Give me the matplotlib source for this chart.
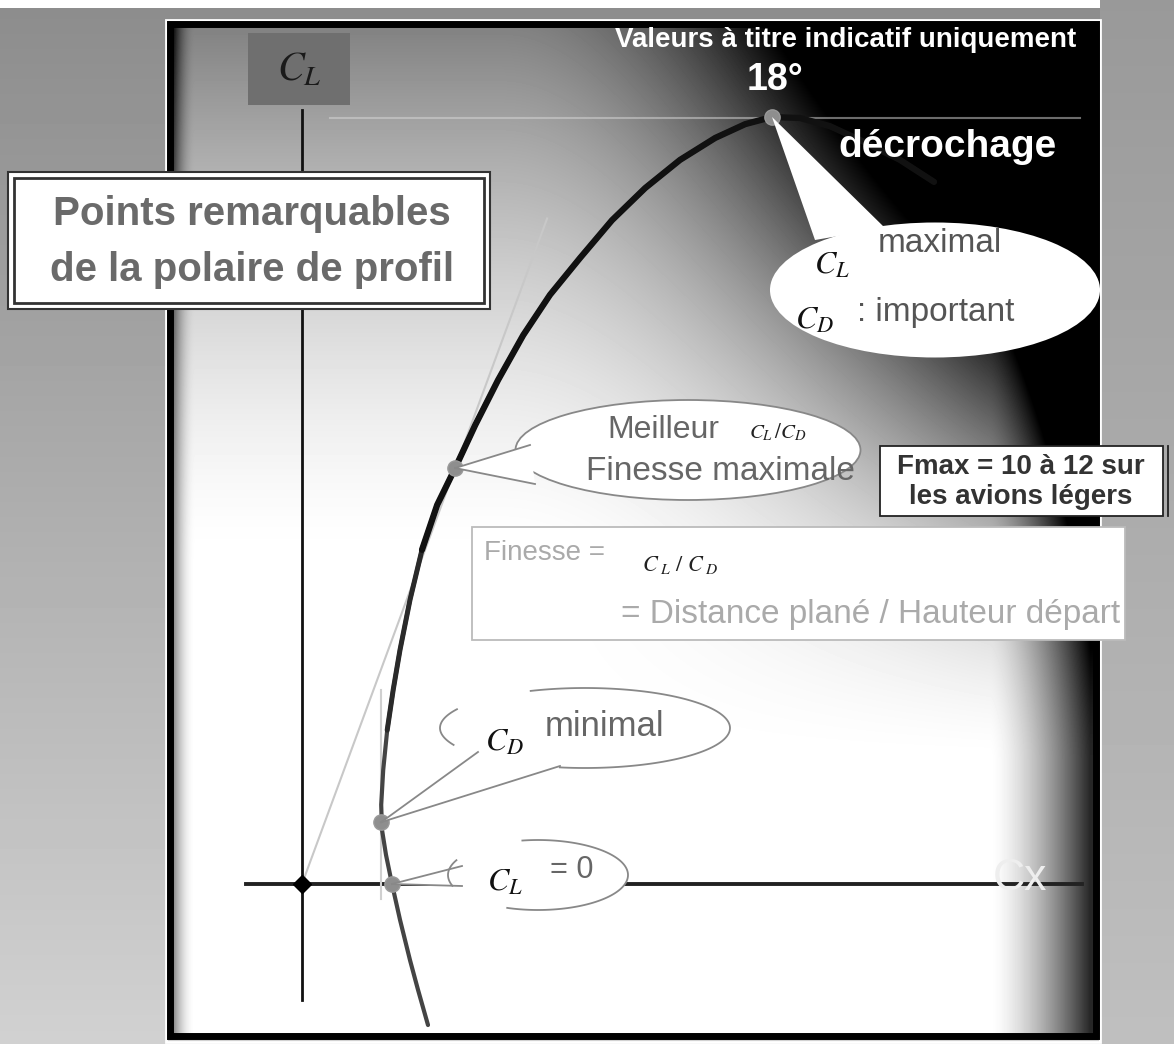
import numpy as np
import matplotlib.pyplot as plt
from matplotlib.patches import Ellipse, Polygon, Rectangle

plt.rcParams['mathtext.fontset'] = 'stix'
SANS = ['Liberation Sans', 'DejaVu Sans']

W, H = 1174, 1044

# polaire (CD, CL)
cd_polar = [0.0315, 0.029, 0.027, 0.0245, 0.0225, 0.021, 0.020, 0.0198, 0.0203,
            0.0213, 0.0228, 0.0245, 0.027, 0.030, 0.0338, 0.0383, 0.0433, 0.049,
            0.0553, 0.062, 0.0695, 0.0775, 0.0858, 0.0945, 0.1033, 0.1108, 0.1175,
            0.1245, 0.132, 0.1395, 0.1495, 0.158]
cl_polar = [-0.276, -0.207, -0.149, -0.070, 0.0, 0.057, 0.106, 0.155, 0.223,
            0.301, 0.380, 0.458, 0.556, 0.654, 0.742, 0.814, 0.898, 0.986,
            1.074, 1.153, 1.225, 1.299, 1.362, 1.417, 1.460, 1.487, 1.501,
            1.499, 1.483, 1.456, 1.417, 1.374]

# points remarquables : CL = 0, CD minimal, finesse max, CL max
pt_cd = [0.0225, 0.0198, 0.0383, 0.1175]
pt_cl = [0.0, 0.121, 0.814, 1.501]

# limites des axes dessines
cl_axis = [-0.227, 1.515]
cd_axis = [-0.014, 0.195]


fig = plt.figure(figsize=(W / 100, H / 100), dpi=100)

# fond (coordonnees pixel)
bg = fig.add_axes([0, 0, 1, 1])
bg.set_xlim(0, W)
bg.set_ylim(H, 0)
bg.axis('off')

yy, xx = np.mgrid[0:H, 0:W].astype(float)
img = 0.55 + 0.27 * yy / H
img[:8, :] = 1.0
img[:, 1100:] = 0.6 + 0.15 * yy[:, 1100:] / H
t = np.clip((560 - yy) / 540, 0, 1) ** 1.5
s = np.clip((760 - yy) / 740, 0, 1) ** 1.5
r = np.clip((xx - 500) / 590, 0, 1) ** 2
r2 = np.clip((xx - 990) / 100, 0, 1) ** 1.5
l2 = np.clip((195 - xx) / 25, 0, 1) ** 2
panel = np.clip(1 - 0.5 * t - 2.5 * s * r - 0.85 * r2 - 0.6 * l2, 0, 1)
inside = (xx > 168) & (xx < 1098) & (yy > 22) & (yy < 1040)
img[inside] = panel[inside]
bg.imshow(img, cmap='gray', vmin=0, vmax=1, extent=(0, W, H, 0), aspect='auto',
          interpolation='bilinear')
bg.add_patch(Rectangle((166, 20), 934, 1022, fill=False, ec='white', lw=2))
bg.add_patch(Rectangle((170, 24), 926, 1012, fill=False, ec='black', lw=5))
bg.plot([330, 1080], [118, 118], color='#d8d8d8', lw=1.5, alpha=0.5)

# polaire (coordonnees CD / CL)
pax = fig.add_axes([0, 0, 1, 1])
pax.set_xlim(-302 / 4000, (W - 302) / 4000)
pax.set_ylim((884 - H) / 511, 884 / 511)
pax.patch.set_alpha(0)
pax.axis('off')

pax.plot([0, 0], cl_axis, color='#111111', lw=2)
pax.plot(cd_axis, [0, 0], color='#222222', lw=2.8)
k = 1.6
pax.plot([0, pt_cd[2] * k], [0, pt_cl[2] * k], color='#c8c8c8', lw=1.5)
pax.plot([pt_cd[1], pt_cd[1]], [-0.03, 0.38], color='#d0d0d0', lw=1.5)

cd_arr = np.array(cd_polar)
cl_arr = np.array(cl_polar)
pax.plot(cd_arr, cl_arr, color='#444444', lw=3.0, solid_capstyle='round')
mid = cl_arr >= 0.3
pax.plot(cd_arr[mid], cl_arr[mid], color='#2a2a2a', lw=3.6, solid_capstyle='round')
up = cl_arr >= 0.6
pax.plot(cd_arr[up], cl_arr[up], color='#111111', lw=4.5, solid_capstyle='round')
pax.plot(pt_cd, pt_cl, 'o', color='#8e8e8e', ms=11, mec='#9a9a9a')
pax.plot([0], [0], 'D', color='black', ms=9)

# annotations (coordonnees pixel, au-dessus)
fg = fig.add_axes([0, 0, 1, 1])
fg.set_xlim(0, W)
fg.set_ylim(H, 0)
fg.patch.set_alpha(0)
fg.axis('off')


def to_px(cd, cl):
    return fg.transData.inverted().transform(pax.transData.transform((cd, cl)))


def outline(cx, cy, w, h, a1, a2, color, lw):
    # contour d'ellipse entre deux angles (degres, sens trigo a l'ecran)
    a = np.radians(np.linspace(a1, a2, 120))
    fg.plot(cx + w / 2 * np.cos(a), cy - h / 2 * np.sin(a), color=color, lw=lw, zorder=4)


def callout(cx, cy, w, h, tip, b1, b2, fill='white', edge='#888888', lw=1.3,
            arcs=None):
    ec = edge if arcs is None else 'none'
    fg.add_patch(Ellipse((cx, cy), w, h, fc=fill, ec=ec, lw=lw, zorder=3))
    fg.add_patch(Polygon([b1, tip, b2], closed=True, fc=fill, ec='none', zorder=4))
    if arcs is not None:
        for a1, a2 in arcs:
            outline(cx, cy, w, h, a1, a2, edge, lw)
    if edge != 'none':
        fg.plot([b1[0], tip[0]], [b1[1], tip[1]], color=edge, lw=lw, zorder=4)
        fg.plot([b2[0], tip[0]], [b2[1], tip[1]], color=edge, lw=lw, zorder=4)


# C_L label
fg.add_patch(Rectangle((248, 33), 102, 72, fc='#6f6f6f', ec='none'))
fg.text(299, 70, r'$C_L$', fontsize=29, color='#1a1a1a', ha='center', va='center')

# titre encadre
fg.add_patch(Rectangle((8, 172), 482, 137, fc='white', ec='#333333', lw=1.5, zorder=3))
fg.add_patch(Rectangle((14, 178), 470, 125, fc='none', ec='#333333', lw=2, zorder=3))
fg.text(252, 214, 'Points remarquables', fontsize=29, fontweight='bold',
        color='#6a6a6a', ha='center', va='center', family=SANS, zorder=4)
fg.text(252, 270, 'de la polaire de profil', fontsize=29, fontweight='bold',
        color='#6a6a6a', ha='center', va='center', family=SANS, zorder=4)

# haut
fg.text(846, 40, 'Valeurs à titre indicatif uniquement', fontsize=20, fontweight='bold',
        color='white', ha='center', va='center', family=SANS)
fg.text(775, 80, '18°', fontsize=27, fontweight='bold', color='white',
        ha='center', va='center', family=SANS)
fg.text(948, 147, 'décrochage', fontsize=28, fontweight='bold', color='white',
        ha='center', va='center', family=SANS)

tip = to_px(pt_cd[3], pt_cl[3])
callout(935, 290, 330, 135, tip, (815, 240), (885, 228), edge='none')
fg.text(832, 265, r'$C_L$', fontsize=23, color='#111111', ha='center', va='center', zorder=5)
fg.text(940, 244, 'maximal', fontsize=24, color='#555555', ha='center', va='center',
        family=SANS, zorder=5)
fg.text(815, 320, r'$C_D$', fontsize=23, color='#111111', ha='center', va='center', zorder=5)
fg.text(936, 312, ': important', fontsize=24, color='#555555', ha='center', va='center',
        family=SANS, zorder=5)

# finesse max
tip = to_px(pt_cd[2], pt_cl[2])
callout(688, 450, 345, 100, tip, (530, 445), (535, 484))
fg.text(663, 430, 'Meilleur', fontsize=23, color='#666666', ha='center', va='center',
        family=SANS, zorder=5)
fg.text(778, 432, r'$C_L\,/C_D$', fontsize=15, color='#222222', ha='center', va='center',
        zorder=5)
fg.text(720, 472, 'Finesse maximale', fontsize=24, color='#666666', ha='center',
        va='center', family=SANS, zorder=5)

fg.add_patch(Rectangle((880, 446), 283, 70, fc='white', ec='#222222', lw=1.3, zorder=6))
fg.plot([1168, 1168], [446, 516], color='#222222', lw=1.3, zorder=6)
fg.text(1021, 467, 'Fmax = 10 à 12 sur', fontsize=20, fontweight='bold', color='#333333',
        ha='center', va='center', family=SANS, zorder=7)
fg.text(1021, 497, 'les avions légers', fontsize=20, fontweight='bold', color='#333333',
        ha='center', va='center', family=SANS, zorder=7)

fg.add_patch(Rectangle((472, 527), 653, 113, fc='white', ec='#bbbbbb', lw=1.3, zorder=3))
fg.text(484, 553, 'Finesse =', fontsize=20, color='#aaaaaa', ha='left', va='center',
        family=SANS, zorder=5)
fg.text(680, 565, r'$C_{\ L}\ /\ C_{\ D}$', fontsize=16, color='#222222', ha='center',
        va='center', zorder=5)
fg.text(1120, 615, '= Distance plané / Hauteur départ', fontsize=24, color='#aaaaaa',
        ha='right', va='center', family=SANS, zorder=5)

# CD minimal
tip = to_px(pt_cd[1], pt_cl[1])
callout(585, 728, 290, 80, tip, (478, 752), (560, 766),
        arcs=[(-100, 112), (152, 205)])
fg.text(505, 742, r'$C_D$', fontsize=23, color='#111111', ha='center', va='center', zorder=5)
fg.text(605, 726, 'minimal', fontsize=25, color='#666666', ha='center', va='center',
        family=SANS, zorder=5)

# CL = 0
tip = to_px(pt_cd[0], pt_cl[0])
callout(538, 875, 180, 70, tip, (462, 866), (462, 886),
        arcs=[(-110, 100), (155, 198)])
fg.text(505, 882, r'$C_L$', fontsize=23, color='#111111', ha='center', va='center', zorder=5)
fg.text(572, 870, '= 0', fontsize=22, color='#666666', ha='center', va='center',
        family=SANS, zorder=5)

fg.text(1020, 878, 'Cx', fontsize=32, color='#eeeeee', ha='center', va='center',
        family=SANS)

fig.savefig('out.png', dpi=100)
